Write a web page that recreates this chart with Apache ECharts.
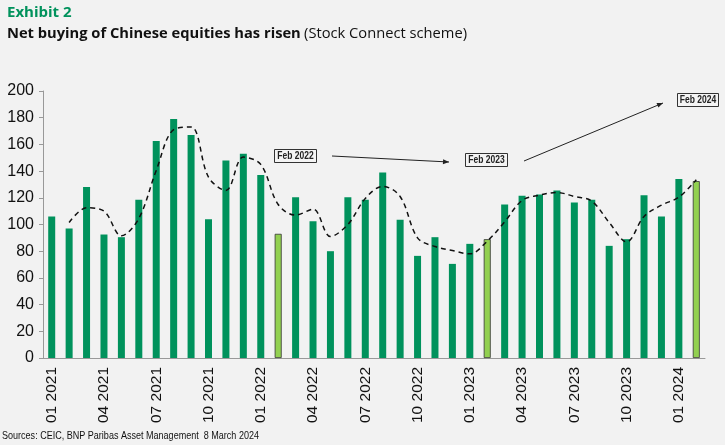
<!DOCTYPE html>
<html>
<head>
<meta charset="utf-8">
<script src="https://cdn.jsdelivr.net/npm/echarts@6/dist/echarts.min.js"></script>
<style>
  html, body { margin: 0; padding: 0; background: #f2f2f2; }
  #chart { width: 725px; height: 445px; }
</style>
</head>
<body>
<div id="chart"></div>
<script>
// months Jan 2021 .. Feb 2024
const months = [
  '01 2021','02 2021','03 2021','04 2021','05 2021','06 2021','07 2021','08 2021','09 2021','10 2021','11 2021','12 2021',
  '01 2022','02 2022','03 2022','04 2022','05 2022','06 2022','07 2022','08 2022','09 2022','10 2022','11 2022','12 2022',
  '01 2023','02 2023','03 2023','04 2023','05 2023','06 2023','07 2023','08 2023','09 2023','10 2023','11 2023','12 2023',
  '01 2024','02 2024'
];
// monthly net buying
const netBuying = [
  106, 97, 128, 92.5, 90.5, 118.5, 162.5, 179, 167, 104, 148, 153,
  137, 93, 120.5, 102.5, 80, 120.5, 118.5, 139, 103.5, 76.5, 90.5, 70.5,
  85.5, 89, 115, 121.5, 122.5, 125.5, 116.5, 118.5, 84, 89, 122, 106,
  134, 132.5
];
// dashed trend line
const trend = [
  null, 101.5, 112.5, 110, 91.5, 104.5, 140.5, 171, 173, 135.5, 125.5, 150.5,
  145, 115, 107, 111.5, 91, 100, 119.5, 128.5, 121, 90, 83.5, 80.5,
  78, 87.5, 102, 118, 122, 124, 121, 117.5, 101.5, 87, 106, 114.5,
  120.5, 133.5
];
const highlight = ['02 2022', '02 2023', '02 2024'];

const green = '#00925c';
const light = '#92d050';

let chart = echarts.init(document.getElementById('chart'));

// annotation label box
let box = (x, y, w, text) => ({
  type: 'group', left: x, top: y,
  children: [
    { type: 'rect', shape: { x: 0, y: 0, width: w, height: 13 }, style: { fill: '#f4f4f4', stroke: '#333', lineWidth: 1 } },
    { type: 'text', x: w / 2, y: 7, scaleX: 0.85, style: { text: text, fill: '#222', font: 'bold 10px "Liberation Sans", Arial, sans-serif', align: 'center', verticalAlign: 'middle' } }
  ]
});

let arrow = (x1, y1, x2, y2) => {
  let a = Math.atan2(y2 - y1, x2 - x1);
  let s = 6;
  return [
    { type: 'line', shape: { x1, y1, x2, y2 }, style: { stroke: '#222', lineWidth: 1 } },
    { type: 'polygon', shape: { points: [
      [x2, y2],
      [x2 - s * Math.cos(a) + 2.5 * Math.sin(a), y2 - s * Math.sin(a) - 2.5 * Math.cos(a)],
      [x2 - s * Math.cos(a) - 2.5 * Math.sin(a), y2 - s * Math.sin(a) + 2.5 * Math.cos(a)]
    ] }, style: { fill: '#222' } }
  ];
};

let option = {
  backgroundColor: '#f2f2f2',
  animation: false,
  title: {
    left: 7, top: 5, padding: 0,
    text: 'Exhibit 2',
    textStyle: { color: green, fontSize: 15, fontWeight: 'bold', fontFamily: '"Open Sans", sans-serif' },
    subtext: '{b|Net buying of Chinese equities has risen} {n|(Stock Connect scheme)}',
    itemGap: 6,
    subtextStyle: {
      rich: {
        b: { fontSize: 14.7, fontWeight: 'bold', color: '#111', fontFamily: '"Open Sans", sans-serif' },
        n: { fontSize: 14.7, color: '#111', fontFamily: '"Open Sans", sans-serif' }
      }
    }
  },
  grid: { left: 43, right: 20, top: 91, bottom: 87 },
  xAxis: {
    type: 'category',
    data: months,
    axisLine: { lineStyle: { color: '#999' } },
    axisTick: { interval: 2, length: 5, lineStyle: { color: '#999' } },
    axisLabel: {
      interval: 2, rotate: 90, margin: 9,
      color: '#111', fontSize: 15.5, fontFamily: '"Liberation Sans", Arial, sans-serif'
    }
  },
  yAxis: {
    type: 'value',
    min: 0, max: 200, interval: 20,
    axisLine: { show: true, lineStyle: { color: '#999' } },
    axisTick: { show: true, length: 4, lineStyle: { color: '#999' } },
    splitLine: { show: false },
    axisLabel: { color: '#111', fontSize: 16, margin: 9, fontFamily: '"Liberation Sans", Arial, sans-serif' }
  },
  series: [
    {
      type: 'bar',
      barWidth: 7,
      data: netBuying.map((v, i) => highlight.includes(months[i])
        ? { value: v, itemStyle: { color: light, borderColor: '#333', borderWidth: 0.8 } }
        : { value: v, itemStyle: { color: green } })
    },
    {
      type: 'line',
      data: trend,
      smooth: 0.35,
      symbol: 'none',
      z: 5,
      lineStyle: { color: '#111', width: 1.5, type: [5, 4] }
    }
  ],
  graphic: [
    box(274, 149, 42, 'Feb 2022'),
    box(465, 153, 42, 'Feb 2023'),
    box(677, 93, 41, 'Feb 2024'),
    ...arrow(332, 156, 449, 162),
    ...arrow(524, 161, 663, 103),
    {
      type: 'text', left: 2, top: 431, scaleX: 0.86,
      style: { text: 'Sources: CEIC, BNP Paribas Asset Management  8 March 2024', fill: '#111',
        font: '10.5px "Liberation Sans", Arial, sans-serif' }
    }
  ]
};

chart.setOption(option);
</script>
</body>
</html>
